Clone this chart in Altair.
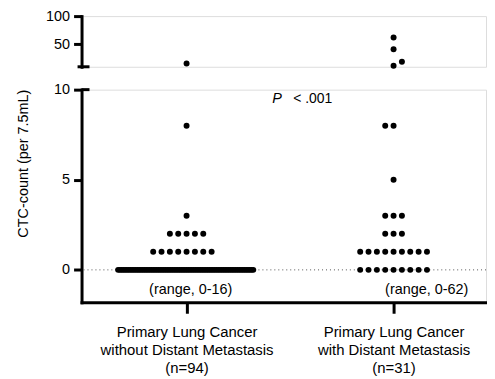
import altair as alt
import pandas as pd

# ---- data ----
groups = [1, 2]
group_labels = [["Primary Lung Cancer", "without Distant Metastasis", "(n=94)"],
                ["Primary Lung Cancer", "with Distant Metastasis", "(n=31)"]]
g1_values = [16, 8, 3, 2, 1, 0]
g1_counts = [1, 1, 1, 5, 8, 78]
g2_values = [62, 41, 19, 12, 8, 5, 3, 2, 1, 0]
g2_counts = [1, 1, 1, 1, 2, 1, 3, 3, 9, 9]
g2_nudge = [0, 0, 1, 0, 0, 0, 0, 0, 0, 0]   # beeswarm side-shift
g1_nudge = [0, 0, 0, 0, 0, 0]
range_texts = ["(range, 0-16)", "(range, 0-62)"]
range_x = [1.02, 2.16]
range_y = [-1.1, -1.1]
p_x = [1.414]
p_y = [9.5]

# ---- layout helpers ----
UNIT_PX = 208.3
PLOT_W = 407
STEP = 8.4 / UNIT_PX          # dot spacing in x units
MAXW = 136 / UNIT_PX          # max row width
X_MIN = 0.4926
X_DOMAIN = [X_MIN, X_MIN + PLOT_W / UNIT_PX]
BREAK = 10

rows = []
for g, vals, cnts, nud in [(1, g1_values, g1_counts, g1_nudge),
                           (2, g2_values, g2_counts, g2_nudge)]:
    for v, n, nd in zip(vals, cnts, nud):
        sp = STEP if n <= 1 else min(STEP, MAXW / (n - 1))
        for k in range(n):
            off = k - n // 2 + nd
            rows.append({"g": g, "x": g + off * sp, "y": v})
df = pd.DataFrame(rows)
upper_df = df[df.y >= BREAK]
lower_df = df[df.y < BREAK]

xscale = alt.Scale(domain=X_DOMAIN, nice=False, zero=False)
FONT = "Liberation Sans"

axis_common = dict(domainColor="black", domainWidth=3, tickColor="black", tickWidth=3,
                   labelColor="black", labelFont=FONT, grid=False, domainCap="square")

# ---- upper panel ----
upper_pts = alt.Chart(upper_df).mark_circle(size=36, color="black", opacity=1).encode(
    x=alt.X("x:Q", scale=xscale, axis=None),
    y=alt.Y("y:Q", scale=alt.Scale(domain=[BREAK, 100], nice=False, zero=False),
            axis=alt.Axis(values=[50, 100], title=None, tickSize=8, labelPadding=4,
                          labelFontSize=14.5, **axis_common)),
)
upper_cap = alt.Chart(pd.DataFrame({"a": [0]})).mark_rule(color="black", strokeWidth=3).encode(
    y=alt.datum(BREAK), x=alt.value(-4), x2=alt.value(8))
upper = alt.layer(upper_cap, upper_pts).properties(width=PLOT_W, height=51)

# ---- lower panel ----
label_expr = ("datum.value == 1 ? " + str(group_labels[0]) + " : " + str(group_labels[1]))

lower_zero = alt.Chart(pd.DataFrame({"a": [0]})).mark_rule(
    color="#555", strokeWidth=1, strokeDash=[1, 3]).encode(y=alt.datum(0))
lower_pts = alt.Chart(lower_df).mark_circle(size=36, color="black", opacity=1).encode(
    x=alt.X("x:Q", scale=xscale,
            axis=alt.Axis(values=groups, title=None, labelExpr=label_expr, tickSize=11,
                          labelPadding=11, labelLineHeight=18.5, labelAngle=0,
                          labelFontSize=15, **axis_common)),
    y=alt.Y("y:Q", scale=alt.Scale(domain=[-1.8, BREAK], nice=False, zero=False),
            axis=alt.Axis(values=[0, 5, 10], title="CTC-count (per 7.5mL)", tickSize=8,
                          labelPadding=4, labelFontSize=14.5, titleFontSize=14.5,
                          titleFont=FONT, titleFontWeight="normal", titleColor="black",
                          titleX=-58, titleY=74, titleAngle=270, titleBaseline="middle",
                          titleAlign="center", **axis_common)),
)
lower_cap = alt.Chart(pd.DataFrame({"a": [0]})).mark_rule(color="black", strokeWidth=3).encode(
    y=alt.datum(BREAK), x=alt.value(0), x2=alt.value(8))
range_df = pd.DataFrame({"x": range_x, "y": range_y, "t": range_texts})
range_txt = alt.Chart(range_df).mark_text(fontSize=14.5, font=FONT, color="black").encode(
    x="x:Q", y="y:Q", text="t:N")
p_df = pd.DataFrame({"x": p_x, "y": p_y})
p_italic = alt.Chart(p_df).mark_text(fontSize=14.5, font=FONT, fontStyle="italic",
                                     align="left", color="black").encode(
    x="x:Q", y="y:Q", text=alt.value("P"))
p_rest = alt.Chart(p_df).mark_text(fontSize=14, font=FONT, align="left", dx=21,
                                   color="black").encode(
    x="x:Q", y="y:Q", text=alt.value("< .001"))

lower = alt.layer(lower_zero, lower_cap, lower_pts, range_txt, p_italic, p_rest).properties(
    width=PLOT_W, height=214)

chart = alt.vconcat(upper, lower, spacing=11).properties(
    padding={"left": 7, "top": -2, "right": 0, "bottom": -2}
).configure_view(stroke=None).configure(font=FONT)

chart.save("out.html", embed_options={"renderer": "svg", "actions": False})
